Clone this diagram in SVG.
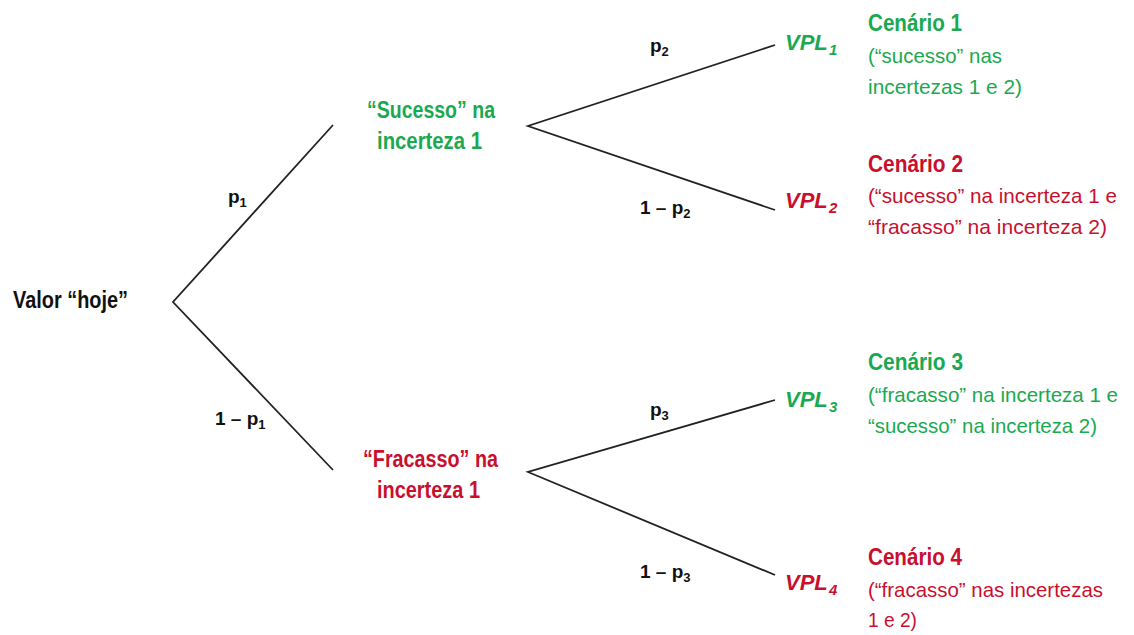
<svg xmlns="http://www.w3.org/2000/svg" width="1134" height="635" viewBox="0 0 1134 635">
  <style>
    text { font-family: "Liberation Sans", Arial, sans-serif; font-size: 23px; }
    .t { font-size: 21px; }
    .b { font-weight: bold; }
    .bi { font-weight: bold; font-style: italic; font-size: 22px; }
    .vs { font-weight: bold; font-style: italic; font-size: 15px; }
    .lbl { font-size: 19px; font-weight: bold; fill: #111; }
    .sub { font-size: 13px; }
    .g { fill: #1aa950; }
    .r { fill: #c8102e; }
    .k { fill: #111; }
    .edge { stroke: #222; stroke-width: 1.8; fill: none; }
  </style>
  <rect width="1134" height="635" fill="#fff"/>

  <g id="connectors">
    <path class="edge" d="M333,125 L173,302 L333,470"/>
    <path class="edge" d="M775,45 L528,126 L775,210"/>
    <path class="edge" d="M775,400 L528,472 L775,575"/>
  </g>

  <g id="edge-labels">
    <text class="lbl" x="228" y="203">p<tspan class="sub" dy="4">1</tspan></text>
    <text class="lbl" x="215" y="425">1 – p<tspan class="sub" dy="4">1</tspan></text>
    <text class="lbl" x="650" y="52">p<tspan class="sub" dy="4">2</tspan></text>
    <text class="lbl" x="640" y="214">1 – p<tspan class="sub" dy="4">2</tspan></text>
    <text class="lbl" x="650" y="416">p<tspan class="sub" dy="4">3</tspan></text>
    <text class="lbl" x="640" y="578">1 – p<tspan class="sub" dy="4">3</tspan></text>
  </g>

  <g id="root">
    <text class="b k" x="13" y="308" textLength="115" lengthAdjust="spacingAndGlyphs">Valor “hoje”</text>
  </g>

  <g id="sucesso">
    <text class="b g" x="367" y="118" textLength="128" lengthAdjust="spacingAndGlyphs">“Sucesso” na</text>
    <text class="b g" x="377" y="149" textLength="105" lengthAdjust="spacingAndGlyphs">incerteza 1</text>
  </g>

  <g id="fracasso">
    <text class="b r" x="363" y="467" textLength="135" lengthAdjust="spacingAndGlyphs">“Fracasso” na</text>
    <text class="b r" x="377" y="498" textLength="103" lengthAdjust="spacingAndGlyphs">incerteza 1</text>
  </g>

  <!-- terminal values: VPL with its index set a little lower -->
  <g id="vpl1">
    <text class="bi g" x="785" y="50">VPL</text>
    <text class="vs g" x="829" y="55">1</text>
  </g>
  <g id="vpl2">
    <text class="bi r" x="785" y="208">VPL</text>
    <text class="vs r" x="829" y="213">2</text>
  </g>
  <g id="vpl3">
    <text class="bi g" x="785" y="407">VPL</text>
    <text class="vs g" x="829" y="412">3</text>
  </g>
  <g id="vpl4">
    <text class="bi r" x="785" y="590">VPL</text>
    <text class="vs r" x="829" y="595">4</text>
  </g>

  <g id="cenario1">
    <text class="b g" x="868" y="31" textLength="94" lengthAdjust="spacingAndGlyphs">Cenário 1</text>
    <text class="t g" x="868" y="63" textLength="134" lengthAdjust="spacingAndGlyphs">(“sucesso” nas</text>
    <text class="t g" x="868" y="94" textLength="154" lengthAdjust="spacingAndGlyphs">incertezas 1 e 2)</text>
  </g>
  <g id="cenario2">
    <text class="b r" x="868" y="172" textLength="95" lengthAdjust="spacingAndGlyphs">Cenário 2</text>
    <text class="t r" x="868" y="203" textLength="249" lengthAdjust="spacingAndGlyphs">(“sucesso” na incerteza 1 e</text>
    <text class="t r" x="868" y="234" textLength="239" lengthAdjust="spacingAndGlyphs">“fracasso” na incerteza 2)</text>
  </g>
  <g id="cenario3">
    <text class="b g" x="868" y="370" textLength="95" lengthAdjust="spacingAndGlyphs">Cenário 3</text>
    <text class="t g" x="868" y="402" textLength="250" lengthAdjust="spacingAndGlyphs">(“fracasso” na incerteza 1 e</text>
    <text class="t g" x="868" y="433" textLength="229" lengthAdjust="spacingAndGlyphs">“sucesso” na incerteza 2)</text>
  </g>
  <g id="cenario4">
    <text class="b r" x="868" y="565" textLength="94" lengthAdjust="spacingAndGlyphs">Cenário 4</text>
    <text class="t r" x="868" y="597" textLength="235" lengthAdjust="spacingAndGlyphs">(“fracasso” nas incertezas</text>
    <text class="t r" x="868" y="627" textLength="49" lengthAdjust="spacingAndGlyphs">1 e 2)</text>
  </g>
</svg>
